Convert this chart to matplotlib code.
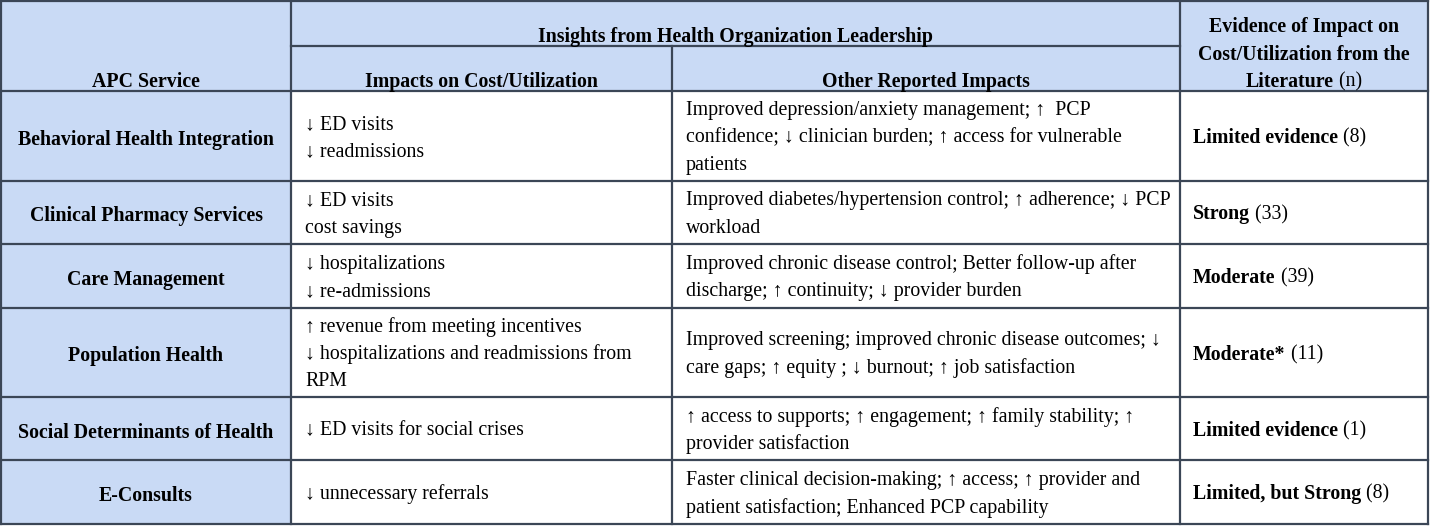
import matplotlib as mpl
mpl.use('Agg')
import matplotlib.pyplot as plt

plt.rcParams['font.family'] = ['Liberation Serif', 'DejaVu Serif']

# table content
services = ["Behavioral Health Integration", "Clinical Pharmacy Services", "Care Management",
            "Population Health", "Social Determinants of Health", "E-Consults"]

cost_impacts = [
    ["\u2193 ED visits", "\u2193 readmissions"],
    ["\u2193 ED visits", "cost savings"],
    ["\u2193 hospitalizations", "\u2193 re-admissions"],
    ["\u2191 revenue from meeting incentives", "\u2193 hospitalizations and readmissions from", "RPM"],
    ["\u2193 ED visits for social crises"],
    ["\u2193 unnecessary referrals"],
]

other_impacts = [
    ["Improved depression/anxiety management; \u2191  PCP",
     "confidence; \u2193 clinician burden; \u2191 access for vulnerable", "patients"],
    ["Improved diabetes/hypertension control; \u2191 adherence; \u2193 PCP", "workload"],
    ["Improved chronic disease control; Better follow-up after",
     "discharge; \u2191 continuity; \u2193 provider burden"],
    ["Improved screening; improved chronic disease outcomes; \u2193",
     "care gaps; \u2191 equity ; \u2193 burnout; \u2191 job satisfaction"],
    ["\u2191 access to supports; \u2191 engagement; \u2191 family stability; \u2191",
     "provider satisfaction"],
    ["Faster clinical decision-making; \u2191 access; \u2191 provider and",
     "patient satisfaction; Enhanced PCP capability"],
]

evidence_label = ["Limited evidence", "Strong", "Moderate", "Moderate*", "Limited evidence",
                  "Limited, but Strong"]
evidence_n = [8, 33, 39, 11, 1, 8]

# layout (pixels)
W, H = 1430, 532
col_x = [1, 291, 672, 1180, 1428]
row_y = [1, 91, 181, 244, 308, 397, 460, 524]
sub_y = 46
blue = '#c9daf5'
line_c = '#3b4656'
fs = 14.3
lh = 27.5
dy = 2  # small nudge so glyphs sit like the reference

fig = plt.figure(figsize=(W / 100, H / 100), dpi=100)
ax = fig.add_axes([0, 0, 1, 1])
ax.set_xlim(0, W)
ax.set_ylim(H, 0)
ax.axis('off')

# fills
ax.fill_between([col_x[0], col_x[-1]], row_y[0], row_y[1], color=blue, lw=0)
ax.fill_between([col_x[0], col_x[1]], row_y[1], row_y[-1], color=blue, lw=0)

# grid lines
lw = 1.6
for y in row_y:
    ax.plot([col_x[0], col_x[-1]], [y, y], color=line_c, lw=lw, solid_capstyle='projecting')
ax.plot([col_x[1], col_x[3]], [sub_y, sub_y], color=line_c, lw=lw)
for i, x in enumerate(col_x):
    y0 = sub_y if i == 2 else row_y[0]
    ax.plot([x, x], [y0, row_y[-1]], color=line_c, lw=lw, solid_capstyle='projecting')


def mixed(x, y, bold, normal, ha='left'):
    t = ax.text(x, y, bold, fontsize=fs, fontweight='bold', ha='left', va='center')
    fig.canvas.draw()
    r = fig.canvas.get_renderer()
    bb = t.get_window_extent(r)
    n = ax.annotate(normal, xy=(1, 0.5), xycoords=t, fontsize=fs, ha='left', va='center')
    if ha == 'center':
        nb = n.get_window_extent(r)
        total = bb.width + nb.width
        inv = ax.transData.inverted()
        xpix = ax.transData.transform((x, y))[0] - total / 2
        t.set_x(inv.transform((xpix, 0))[0])


def bold(x, y, s, ha='center'):
    ax.text(x, y + dy, s, fontsize=fs, fontweight='bold', ha=ha, va='center')


# header
bold((col_x[1] + col_x[3]) / 2, 35, "Insights from Health Organization Leadership")
bold((col_x[0] + col_x[1]) / 2, 80, "APC Service")
bold((col_x[1] + col_x[2]) / 2, 80, "Impacts on Cost/Utilization")
bold((col_x[2] + col_x[3]) / 2, 80, "Other Reported Impacts")
cx4 = (col_x[3] + col_x[4]) / 2
bold(cx4, 25, "Evidence of Impact on")
bold(cx4, 53, "Cost/Utilization from the")
mixed(cx4, 80 + dy, "Literature", " (n)", ha='center')

# body
for i in range(len(services)):
    yc = (row_y[i + 1] + row_y[i + 2]) / 2 + dy
    bold((col_x[0] + col_x[1]) / 2, yc, services[i])
    for col, lines in ((1, cost_impacts[i]), (2, other_impacts[i])):
        n = len(lines)
        for k, s in enumerate(lines):
            ax.text(col_x[col] + 14, yc + (k - (n - 1) / 2) * lh, s, fontsize=fs,
                    ha='left', va='center')
    mixed(col_x[3] + 13, yc, evidence_label[i], " (%d)" % evidence_n[i])

fig.savefig('out.png', dpi=100, facecolor='white')
